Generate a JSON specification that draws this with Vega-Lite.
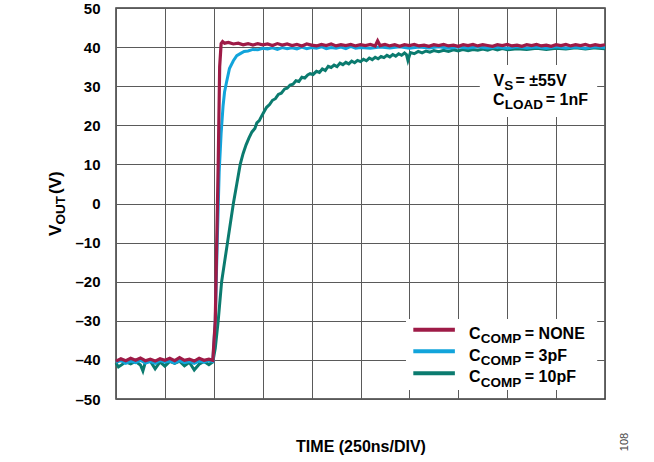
{
  "$schema": "https://vega.github.io/schema/vega-lite/v6.json",
  "width": 489,
  "height": 391,
  "autosize": {"type": "none"},
  "padding": {"left": 116, "top": 8, "right": 49, "bottom": 63},
  "background": "white",
  "config": {
    "font": "Liberation Sans",
    "view": {"stroke": "#3a3a3a", "strokeWidth": 1.5},
    "axisX": {"labels": false, "ticks": false, "domain": false, "grid": true, "gridColor": "#5a5a5a", "gridWidth": 1, "tickCount": 20, "labelOverlap": false,
              "titleFontSize": 16, "titleFontWeight": "bold", "titleColor": "black", "titlePadding": 39},
    "axisY": {"ticks": false, "domain": false, "grid": true, "gridColor": "#5a5a5a", "gridWidth": 1, "tickCount": 20, "labelOverlap": false,
              "labelFontSize": 15, "labelFontWeight": "bold", "labelColor": "black", "labelPadding": 16}
  },
  "data": {"values": [
    {"s":"NONE","t":0.0,"v":-40.3},{"s":"NONE","t":0.1,"v":-39.7},{"s":"NONE","t":0.2,"v":-40.2},{"s":"NONE","t":0.3,"v":-39.6},{"s":"NONE","t":0.4,"v":-40.1},{"s":"NONE","t":0.5,"v":-39.5},{"s":"NONE","t":0.6,"v":-40.2},{"s":"NONE","t":0.7,"v":-39.8},{"s":"NONE","t":0.8,"v":-40.3},{"s":"NONE","t":0.9,"v":-39.7},{"s":"NONE","t":1.0,"v":-40.1},{"s":"NONE","t":1.1,"v":-39.6},{"s":"NONE","t":1.2,"v":-40.2},{"s":"NONE","t":1.3,"v":-39.4},{"s":"NONE","t":1.4,"v":-40.1},{"s":"NONE","t":1.5,"v":-39.8},{"s":"NONE","t":1.6,"v":-40.3},{"s":"NONE","t":1.7,"v":-39.6},{"s":"NONE","t":1.8,"v":-40.1},{"s":"NONE","t":1.9,"v":-39.8},{"s":"NONE","t":1.98,"v":-40.1},
    {"s":"NONE","t":2.03,"v":-30},{"s":"NONE","t":2.06,"v":-10},{"s":"NONE","t":2.09,"v":10},{"s":"NONE","t":2.12,"v":35},{"s":"NONE","t":2.15,"v":40.9},{"s":"NONE","t":2.18,"v":41.4},{"s":"NONE","t":2.22,"v":41.0},{"s":"NONE","t":2.3,"v":41.2},{"s":"NONE","t":2.4,"v":40.8},{"s":"NONE","t":2.5,"v":41.0},{"s":"NONE","t":2.6,"v":40.6},{"s":"NONE","t":2.7,"v":40.9},{"s":"NONE","t":2.8,"v":40.5},{"s":"NONE","t":2.9,"v":40.9},{"s":"NONE","t":3.0,"v":40.6},{"s":"NONE","t":3.1,"v":40.8},{"s":"NONE","t":3.2,"v":40.4},{"s":"NONE","t":3.3,"v":40.9},{"s":"NONE","t":3.4,"v":40.5},{"s":"NONE","t":3.5,"v":40.8},{"s":"NONE","t":3.6,"v":40.4},{"s":"NONE","t":3.7,"v":40.7},{"s":"NONE","t":3.8,"v":40.3},{"s":"NONE","t":3.9,"v":40.8},{"s":"NONE","t":4.0,"v":40.5},{"s":"NONE","t":4.1,"v":40.3},{"s":"NONE","t":4.2,"v":40.7},{"s":"NONE","t":4.3,"v":40.4},{"s":"NONE","t":4.4,"v":40.8},{"s":"NONE","t":4.5,"v":40.3},{"s":"NONE","t":4.6,"v":40.6},{"s":"NONE","t":4.7,"v":40.4},{"s":"NONE","t":4.8,"v":40.7},{"s":"NONE","t":4.9,"v":40.3},{"s":"NONE","t":5.0,"v":40.6},{"s":"NONE","t":5.1,"v":40.4},{"s":"NONE","t":5.2,"v":40.7},{"s":"NONE","t":5.3,"v":40.3},{"s":"NONE","t":5.35,"v":41.6},{"s":"NONE","t":5.4,"v":40.4},{"s":"NONE","t":5.5,"v":40.7},{"s":"NONE","t":5.6,"v":40.3},{"s":"NONE","t":5.7,"v":40.6},{"s":"NONE","t":5.8,"v":40.2},{"s":"NONE","t":5.9,"v":40.6},{"s":"NONE","t":6.0,"v":40.4},{"s":"NONE","t":6.1,"v":40.7},{"s":"NONE","t":6.2,"v":40.3},{"s":"NONE","t":6.3,"v":40.5},{"s":"NONE","t":6.4,"v":40.2},{"s":"NONE","t":6.5,"v":40.6},{"s":"NONE","t":6.6,"v":40.4},{"s":"NONE","t":6.7,"v":40.7},{"s":"NONE","t":6.8,"v":40.3},{"s":"NONE","t":6.9,"v":40.5},{"s":"NONE","t":7.0,"v":40.2},{"s":"NONE","t":7.1,"v":40.6},{"s":"NONE","t":7.2,"v":40.4},{"s":"NONE","t":7.3,"v":40.7},{"s":"NONE","t":7.4,"v":40.3},{"s":"NONE","t":7.5,"v":40.6},{"s":"NONE","t":7.6,"v":40.4},{"s":"NONE","t":7.7,"v":40.2},{"s":"NONE","t":7.8,"v":40.6},{"s":"NONE","t":7.9,"v":40.4},{"s":"NONE","t":8.0,"v":40.7},{"s":"NONE","t":8.1,"v":40.3},{"s":"NONE","t":8.2,"v":40.5},{"s":"NONE","t":8.3,"v":40.2},{"s":"NONE","t":8.4,"v":40.6},{"s":"NONE","t":8.5,"v":40.4},{"s":"NONE","t":8.6,"v":40.7},{"s":"NONE","t":8.7,"v":40.3},{"s":"NONE","t":8.8,"v":40.5},{"s":"NONE","t":8.9,"v":40.2},{"s":"NONE","t":9.0,"v":40.6},{"s":"NONE","t":9.1,"v":40.4},{"s":"NONE","t":9.2,"v":40.7},{"s":"NONE","t":9.3,"v":40.3},{"s":"NONE","t":9.4,"v":40.6},{"s":"NONE","t":9.5,"v":40.4},{"s":"NONE","t":9.6,"v":40.7},{"s":"NONE","t":9.7,"v":40.3},{"s":"NONE","t":9.8,"v":40.6},{"s":"NONE","t":9.9,"v":40.4},{"s":"NONE","t":10.0,"v":40.6},

    {"s":"3pF","t":0.0,"v":-40.6},{"s":"3pF","t":0.1,"v":-40.2},{"s":"3pF","t":0.2,"v":-40.9},{"s":"3pF","t":0.3,"v":-40.3},{"s":"3pF","t":0.4,"v":-40.7},{"s":"3pF","t":0.5,"v":-40.1},{"s":"3pF","t":0.6,"v":-40.8},{"s":"3pF","t":0.7,"v":-40.4},{"s":"3pF","t":0.8,"v":-40.9},{"s":"3pF","t":0.9,"v":-40.2},{"s":"3pF","t":1.0,"v":-40.6},{"s":"3pF","t":1.1,"v":-40.3},{"s":"3pF","t":1.2,"v":-40.8},{"s":"3pF","t":1.3,"v":-40.2},{"s":"3pF","t":1.4,"v":-40.7},{"s":"3pF","t":1.5,"v":-40.4},{"s":"3pF","t":1.6,"v":-40.9},{"s":"3pF","t":1.7,"v":-40.3},{"s":"3pF","t":1.8,"v":-40.6},{"s":"3pF","t":1.9,"v":-40.2},{"s":"3pF","t":1.98,"v":-40.4},
    {"s":"3pF","t":2.03,"v":-30},{"s":"3pF","t":2.07,"v":-10},{"s":"3pF","t":2.11,"v":8},{"s":"3pF","t":2.15,"v":18},{"s":"3pF","t":2.19,"v":25},{"s":"3pF","t":2.22,"v":28.5},{"s":"3pF","t":2.26,"v":31},{"s":"3pF","t":2.32,"v":34.5},{"s":"3pF","t":2.4,"v":36.5},{"s":"3pF","t":2.47,"v":37.8},{"s":"3pF","t":2.55,"v":38.4},{"s":"3pF","t":2.62,"v":38.9},{"s":"3pF","t":2.7,"v":39.0},{"s":"3pF","t":2.8,"v":39.4},{"s":"3pF","t":2.9,"v":39.3},{"s":"3pF","t":3.0,"v":39.7},{"s":"3pF","t":3.1,"v":39.5},{"s":"3pF","t":3.2,"v":39.8},{"s":"3pF","t":3.3,"v":39.4},{"s":"3pF","t":3.4,"v":39.9},{"s":"3pF","t":3.5,"v":39.6},{"s":"3pF","t":3.6,"v":39.8},{"s":"3pF","t":3.7,"v":39.5},{"s":"3pF","t":3.8,"v":40.0},{"s":"3pF","t":3.9,"v":39.6},{"s":"3pF","t":4.0,"v":39.9},{"s":"3pF","t":4.1,"v":39.7},{"s":"3pF","t":4.2,"v":40.1},{"s":"3pF","t":4.3,"v":39.6},{"s":"3pF","t":4.4,"v":39.9},{"s":"3pF","t":4.5,"v":39.7},{"s":"3pF","t":4.6,"v":40.0},{"s":"3pF","t":4.7,"v":39.6},{"s":"3pF","t":4.8,"v":40.2},{"s":"3pF","t":4.9,"v":39.7},{"s":"3pF","t":5.0,"v":39.9},{"s":"3pF","t":5.2,"v":39.7},{"s":"3pF","t":5.4,"v":40.0},{"s":"3pF","t":5.6,"v":39.8},{"s":"3pF","t":5.8,"v":40.1},{"s":"3pF","t":6.0,"v":39.7},{"s":"3pF","t":6.2,"v":40.0},{"s":"3pF","t":6.4,"v":39.8},{"s":"3pF","t":6.6,"v":40.1},{"s":"3pF","t":6.8,"v":39.7},{"s":"3pF","t":7.0,"v":40.0},{"s":"3pF","t":7.2,"v":39.8},{"s":"3pF","t":7.4,"v":40.1},{"s":"3pF","t":7.6,"v":39.8},{"s":"3pF","t":7.8,"v":40.0},{"s":"3pF","t":8.0,"v":39.7},{"s":"3pF","t":8.2,"v":40.1},{"s":"3pF","t":8.4,"v":39.8},{"s":"3pF","t":8.6,"v":40.0},{"s":"3pF","t":8.8,"v":39.7},{"s":"3pF","t":9.0,"v":40.1},{"s":"3pF","t":9.2,"v":39.8},{"s":"3pF","t":9.4,"v":40.0},{"s":"3pF","t":9.6,"v":39.7},{"s":"3pF","t":9.8,"v":40.1},{"s":"3pF","t":10.0,"v":39.9},

    {"s":"10pF","t":0.0,"v":-40.8},{"s":"10pF","t":0.05,"v":-41.8},{"s":"10pF","t":0.1,"v":-41.4},{"s":"10pF","t":0.2,"v":-40.5},{"s":"10pF","t":0.3,"v":-41.0},{"s":"10pF","t":0.4,"v":-40.4},{"s":"10pF","t":0.5,"v":-41.3},{"s":"10pF","t":0.55,"v":-42.8},{"s":"10pF","t":0.6,"v":-40.6},{"s":"10pF","t":0.7,"v":-40.3},{"s":"10pF","t":0.8,"v":-42.3},{"s":"10pF","t":0.9,"v":-40.5},{"s":"10pF","t":1.0,"v":-41.6},{"s":"10pF","t":1.1,"v":-40.4},{"s":"10pF","t":1.2,"v":-40.9},{"s":"10pF","t":1.3,"v":-40.3},{"s":"10pF","t":1.4,"v":-41.5},{"s":"10pF","t":1.5,"v":-40.6},{"s":"10pF","t":1.6,"v":-42.6},{"s":"10pF","t":1.7,"v":-41.1},{"s":"10pF","t":1.8,"v":-40.4},{"s":"10pF","t":1.9,"v":-41.2},{"s":"10pF","t":1.98,"v":-40.5},
    {"s":"10pF","t":2.03,"v":-37},{"s":"10pF","t":2.09,"v":-30},{"s":"10pF","t":2.16,"v":-20},{"s":"10pF","t":2.22,"v":-15},{"s":"10pF","t":2.28,"v":-10},{"s":"10pF","t":2.34,"v":-5},{"s":"10pF","t":2.4,"v":0},{"s":"10pF","t":2.47,"v":5},{"s":"10pF","t":2.54,"v":10},{"s":"10pF","t":2.6,"v":12.8},{"s":"10pF","t":2.66,"v":15},{"s":"10pF","t":2.72,"v":16.8},{"s":"10pF","t":2.78,"v":18.3},{"s":"10pF","t":2.84,"v":19.2},{"s":"10pF","t":2.88,"v":20.6},{"s":"10pF","t":2.93,"v":21.2},{"s":"10pF","t":2.98,"v":22.4},{"s":"10pF","t":3.03,"v":23.5},{"s":"10pF","t":3.08,"v":24.6},{"s":"10pF","t":3.14,"v":25.3},{"s":"10pF","t":3.2,"v":26.4},{"s":"10pF","t":3.26,"v":26.8},{"s":"10pF","t":3.32,"v":27.9},{"s":"10pF","t":3.38,"v":28.2},{"s":"10pF","t":3.45,"v":29.3},{"s":"10pF","t":3.5,"v":29.5},{"s":"10pF","t":3.56,"v":30.3},{"s":"10pF","t":3.62,"v":30.5},{"s":"10pF","t":3.68,"v":31.4},{"s":"10pF","t":3.74,"v":31.2},{"s":"10pF","t":3.8,"v":32.3},{"s":"10pF","t":3.86,"v":32.1},{"s":"10pF","t":3.92,"v":32.9},{"s":"10pF","t":3.97,"v":33.2},{"s":"10pF","t":4.03,"v":33.0},{"s":"10pF","t":4.1,"v":33.8},{"s":"10pF","t":4.16,"v":33.5},{"s":"10pF","t":4.22,"v":34.4},{"s":"10pF","t":4.28,"v":34.0},{"s":"10pF","t":4.34,"v":35.1},{"s":"10pF","t":4.4,"v":34.8},{"s":"10pF","t":4.46,"v":35.4},{"s":"10pF","t":4.52,"v":35.0},{"s":"10pF","t":4.58,"v":35.9},{"s":"10pF","t":4.64,"v":35.5},{"s":"10pF","t":4.7,"v":36.1},{"s":"10pF","t":4.76,"v":35.7},{"s":"10pF","t":4.82,"v":36.4},{"s":"10pF","t":4.88,"v":36.0},{"s":"10pF","t":4.94,"v":36.6},{"s":"10pF","t":5.0,"v":36.3},{"s":"10pF","t":5.06,"v":36.9},{"s":"10pF","t":5.12,"v":36.5},{"s":"10pF","t":5.18,"v":37.2},{"s":"10pF","t":5.24,"v":36.8},{"s":"10pF","t":5.3,"v":37.4},{"s":"10pF","t":5.36,"v":37.0},{"s":"10pF","t":5.42,"v":37.6},{"s":"10pF","t":5.48,"v":37.3},{"s":"10pF","t":5.54,"v":37.9},{"s":"10pF","t":5.6,"v":37.5},{"s":"10pF","t":5.66,"v":38.1},{"s":"10pF","t":5.72,"v":37.7},{"s":"10pF","t":5.78,"v":38.3},{"s":"10pF","t":5.84,"v":37.9},{"s":"10pF","t":5.9,"v":38.5},{"s":"10pF","t":5.94,"v":38.1},{"s":"10pF","t":5.97,"v":36.6},{"s":"10pF","t":6.02,"v":38.6},{"s":"10pF","t":6.1,"v":38.3},{"s":"10pF","t":6.18,"v":38.9},{"s":"10pF","t":6.26,"v":38.5},{"s":"10pF","t":6.34,"v":39.0},{"s":"10pF","t":6.42,"v":38.7},{"s":"10pF","t":6.5,"v":39.1},{"s":"10pF","t":6.6,"v":38.8},{"s":"10pF","t":6.7,"v":39.2},{"s":"10pF","t":6.8,"v":38.9},{"s":"10pF","t":6.9,"v":39.3},{"s":"10pF","t":7.0,"v":39.0},{"s":"10pF","t":7.1,"v":39.4},{"s":"10pF","t":7.2,"v":39.1},{"s":"10pF","t":7.3,"v":39.4},{"s":"10pF","t":7.4,"v":39.2},{"s":"10pF","t":7.5,"v":39.5},{"s":"10pF","t":7.6,"v":39.2},{"s":"10pF","t":7.7,"v":39.6},{"s":"10pF","t":7.8,"v":39.3},{"s":"10pF","t":7.9,"v":39.6},{"s":"10pF","t":8.0,"v":39.3},{"s":"10pF","t":8.2,"v":39.6},{"s":"10pF","t":8.4,"v":39.4},{"s":"10pF","t":8.6,"v":39.7},{"s":"10pF","t":8.8,"v":39.4},{"s":"10pF","t":9.0,"v":39.7},{"s":"10pF","t":9.2,"v":39.5},{"s":"10pF","t":9.4,"v":39.8},{"s":"10pF","t":9.6,"v":39.5},{"s":"10pF","t":9.8,"v":39.8},{"s":"10pF","t":10.0,"v":39.6}
  ]},
  "layer": [
    {"transform": [{"filter": "datum.s === '10pF'"}],
     "mark": {"type": "line", "strokeWidth": 3},
     "encoding": {
       "x": {"field": "t", "type": "quantitative", "scale": {"domain": [0, 10], "nice": false, "zero": false},
             "axis": {"values": [0,1,2,3,4,5,6,7,8,9,10], "title": "TIME (250ns/DIV)"}},
       "y": {"field": "v", "type": "quantitative", "scale": {"domain": [-50, 50], "nice": false, "zero": false},
             "axis": {"values": [-50,-40,-30,-20,-10,0,10,20,30,40,50], "title": null,
                      "labelExpr": "datum.value < 0 ? '–' + abs(datum.value) : '' + datum.value"}},
       "color": {"field": "s", "type": "nominal", "scale": {"domain": ["NONE", "3pF", "10pF"], "range": ["#9E1B47", "#12A4DB", "#0B7B6F"]}, "legend": null}
     }},
    {"data": {"values": [{}]}, "mark": {"type": "rect", "fill": "white"},
     "encoding": {"x": {"datum": 7.44}, "x2": {"datum": 9.84}, "y": {"datum": 35.42}, "y2": {"datum": 22.12}}},
    {"data": {"values": [{}]}, "mark": {"type": "rect", "fill": "white"},
     "encoding": {"x": {"datum": 5.93}, "x2": {"datum": 9.84}, "y": {"datum": -29.54}, "y2": {"datum": -47.7}}},
    {"transform": [{"filter": "datum.s === '3pF'"}],
     "mark": {"type": "line", "strokeWidth": 3},
     "encoding": {"x": {"field": "t", "type": "quantitative", "axis": {"values": [0,1,2,3,4,5,6,7,8,9,10], "title": "TIME (250ns/DIV)"}},
       "y": {"field": "v", "type": "quantitative", "axis": {"values": [-50,-40,-30,-20,-10,0,10,20,30,40,50], "title": null, "labelExpr": "datum.value < 0 ? '–' + abs(datum.value) : '' + datum.value"}},
       "color": {"field": "s", "type": "nominal", "legend": null}}},
    {"transform": [{"filter": "datum.s === 'NONE'"}],
     "mark": {"type": "line", "strokeWidth": 3.2},
     "encoding": {"x": {"field": "t", "type": "quantitative", "axis": {"values": [0,1,2,3,4,5,6,7,8,9,10], "title": "TIME (250ns/DIV)"}},
       "y": {"field": "v", "type": "quantitative", "axis": {"values": [-50,-40,-30,-20,-10,0,10,20,30,40,50], "title": null, "labelExpr": "datum.value < 0 ? '–' + abs(datum.value) : '' + datum.value"}},
       "color": {"field": "s", "type": "nominal", "legend": null}}},
    {"data": {"values": [{}]}, "mark": {"type": "rule", "strokeWidth": 4},
     "encoding": {"x": {"datum": 6.08}, "x2": {"datum": 6.93}, "y": {"datum": -32.28}, "color": {"datum": "NONE", "legend": null}}},
    {"data": {"values": [{}]}, "mark": {"type": "rule", "strokeWidth": 4},
     "encoding": {"x": {"datum": 6.08}, "x2": {"datum": 6.93}, "y": {"datum": -37.8}, "color": {"datum": "3pF", "legend": null}}},
    {"data": {"values": [{}]}, "mark": {"type": "rule", "strokeWidth": 4},
     "encoding": {"x": {"datum": 6.08}, "x2": {"datum": 6.93}, "y": {"datum": -43.43}, "color": {"datum": "10pF", "legend": null}}},
    {"data": {"values": [{}]}, "mark": {"type": "text", "text": "C", "fontSize": 16, "fontWeight": "bold", "align": "left", "baseline": "alphabetic"},
     "encoding": {"x": {"datum": 7.22}, "y": {"datum": -34.65}}},
    {"data": {"values": [{}]}, "mark": {"type": "text", "text": "COMP", "fontSize": 13.5, "fontWeight": "bold", "align": "left", "baseline": "alphabetic"},
     "encoding": {"x": {"datum": 7.46}, "y": {"datum": -35.75}}},
    {"data": {"values": [{}]}, "mark": {"type": "text", "text": "= NONE", "fontSize": 16, "fontWeight": "bold", "align": "left", "baseline": "alphabetic"},
     "encoding": {"x": {"datum": 8.36}, "y": {"datum": -34.65}}},
    {"data": {"values": [{}]}, "mark": {"type": "text", "text": "C", "fontSize": 16, "fontWeight": "bold", "align": "left", "baseline": "alphabetic"},
     "encoding": {"x": {"datum": 7.22}, "y": {"datum": -40.2}}},
    {"data": {"values": [{}]}, "mark": {"type": "text", "text": "COMP", "fontSize": 13.5, "fontWeight": "bold", "align": "left", "baseline": "alphabetic"},
     "encoding": {"x": {"datum": 7.46}, "y": {"datum": -41.3}}},
    {"data": {"values": [{}]}, "mark": {"type": "text", "text": "= 3pF", "fontSize": 16, "fontWeight": "bold", "align": "left", "baseline": "alphabetic"},
     "encoding": {"x": {"datum": 8.36}, "y": {"datum": -40.2}}},
    {"data": {"values": [{}]}, "mark": {"type": "text", "text": "C", "fontSize": 16, "fontWeight": "bold", "align": "left", "baseline": "alphabetic"},
     "encoding": {"x": {"datum": 7.22}, "y": {"datum": -45.75}}},
    {"data": {"values": [{}]}, "mark": {"type": "text", "text": "COMP", "fontSize": 13.5, "fontWeight": "bold", "align": "left", "baseline": "alphabetic"},
     "encoding": {"x": {"datum": 7.46}, "y": {"datum": -46.85}}},
    {"data": {"values": [{}]}, "mark": {"type": "text", "text": "= 10pF", "fontSize": 16, "fontWeight": "bold", "align": "left", "baseline": "alphabetic"},
     "encoding": {"x": {"datum": 8.36}, "y": {"datum": -45.75}}},
    {"data": {"values": [{}]}, "mark": {"type": "text", "text": "V", "fontSize": 16, "fontWeight": "bold", "align": "left", "baseline": "alphabetic"},
     "encoding": {"x": {"datum": 7.72}, "y": {"datum": 30.13}}},
    {"data": {"values": [{}]}, "mark": {"type": "text", "text": "S", "fontSize": 13.5, "fontWeight": "bold", "align": "left", "baseline": "alphabetic"},
     "encoding": {"x": {"datum": 7.94}, "y": {"datum": 29.03}}},
    {"data": {"values": [{}]}, "mark": {"type": "text", "text": "= ±55V", "fontSize": 16, "fontWeight": "bold", "align": "left", "baseline": "alphabetic"},
     "encoding": {"x": {"datum": 8.17}, "y": {"datum": 30.13}}},
    {"data": {"values": [{}]}, "mark": {"type": "text", "text": "C", "fontSize": 16, "fontWeight": "bold", "align": "left", "baseline": "alphabetic"},
     "encoding": {"x": {"datum": 7.71}, "y": {"datum": 25.19}}},
    {"data": {"values": [{}]}, "mark": {"type": "text", "text": "LOAD", "fontSize": 13.5, "fontWeight": "bold", "align": "left", "baseline": "alphabetic"},
     "encoding": {"x": {"datum": 7.95}, "y": {"datum": 24.09}}},
    {"data": {"values": [{}]}, "mark": {"type": "text", "text": "= 1nF", "fontSize": 16, "fontWeight": "bold", "align": "left", "baseline": "alphabetic"},
     "encoding": {"x": {"datum": 8.79}, "y": {"datum": 25.19}}},
    {"data": {"values": [{}]}, "mark": {"type": "text", "text": "V", "fontSize": 17, "fontWeight": "bold", "align": "left", "baseline": "alphabetic", "angle": 270},
     "encoding": {"x": {"datum": -1.12}, "y": {"datum": -8.31}}},
    {"data": {"values": [{}]}, "mark": {"type": "text", "text": "OUT", "fontSize": 13.5, "fontWeight": "bold", "align": "left", "baseline": "alphabetic", "angle": 270},
     "encoding": {"x": {"datum": -1.05}, "y": {"datum": -5.4}}},
    {"data": {"values": [{}]}, "mark": {"type": "text", "text": "(V)", "fontSize": 17, "fontWeight": "bold", "align": "left", "baseline": "alphabetic", "angle": 270},
     "encoding": {"x": {"datum": -1.12}, "y": {"datum": 2.4}}},
    {"data": {"values": [{}]}, "mark": {"type": "text", "text": "108", "fontSize": 11, "color": "#444", "align": "center", "baseline": "middle", "angle": 270},
     "encoding": {"x": {"datum": 10.41}, "y": {"datum": -61.0}}}
  ]
}
